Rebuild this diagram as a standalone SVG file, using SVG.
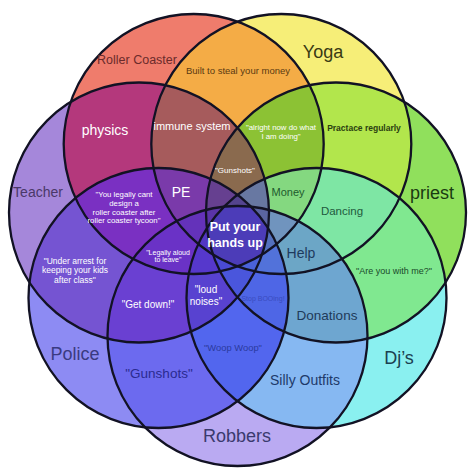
<svg xmlns="http://www.w3.org/2000/svg" width="472" height="472" viewBox="0 0 472 472">
<style>
.t{font-family:"Liberation Sans",Arial,sans-serif;text-anchor:middle}
.w{fill:#ffffff}
.b{font-weight:bold}
.o{fill:none;stroke:#121224;stroke-width:2.3}
</style>
<defs>
<clipPath id="p0_1"><circle cx="193.7" cy="144" r="130"/></clipPath>
<clipPath id="p0_2" clip-path="url(#p0_1)"><circle cx="281.3" cy="144" r="130"/></clipPath>
<clipPath id="p0_3" clip-path="url(#p0_2)"><circle cx="336" cy="212.5" r="130"/></clipPath>
<clipPath id="p0_4" clip-path="url(#p0_3)"><circle cx="316.5" cy="298" r="130"/></clipPath>
<clipPath id="p0_5" clip-path="url(#p0_4)"><circle cx="237.5" cy="336" r="130"/></clipPath>
<clipPath id="p0_6" clip-path="url(#p0_5)"><circle cx="158.5" cy="298" r="130"/></clipPath>
<clipPath id="p1_1"><circle cx="281.3" cy="144" r="130"/></clipPath>
<clipPath id="p1_2" clip-path="url(#p1_1)"><circle cx="336" cy="212.5" r="130"/></clipPath>
<clipPath id="p1_3" clip-path="url(#p1_2)"><circle cx="316.5" cy="298" r="130"/></clipPath>
<clipPath id="p1_4" clip-path="url(#p1_3)"><circle cx="237.5" cy="336" r="130"/></clipPath>
<clipPath id="p1_5" clip-path="url(#p1_4)"><circle cx="158.5" cy="298" r="130"/></clipPath>
<clipPath id="p2_1"><circle cx="336" cy="212.5" r="130"/></clipPath>
<clipPath id="p2_2" clip-path="url(#p2_1)"><circle cx="316.5" cy="298" r="130"/></clipPath>
<clipPath id="p2_3" clip-path="url(#p2_2)"><circle cx="237.5" cy="336" r="130"/></clipPath>
<clipPath id="p2_4" clip-path="url(#p2_3)"><circle cx="158.5" cy="298" r="130"/></clipPath>
<clipPath id="p2_5" clip-path="url(#p2_4)"><circle cx="139" cy="212.5" r="130"/></clipPath>
<clipPath id="p3_1"><circle cx="316.5" cy="298" r="130"/></clipPath>
<clipPath id="p3_2" clip-path="url(#p3_1)"><circle cx="237.5" cy="336" r="130"/></clipPath>
<clipPath id="p3_3" clip-path="url(#p3_2)"><circle cx="158.5" cy="298" r="130"/></clipPath>
<clipPath id="p3_4" clip-path="url(#p3_3)"><circle cx="139" cy="212.5" r="130"/></clipPath>
<clipPath id="p3_5" clip-path="url(#p3_4)"><circle cx="193.7" cy="144" r="130"/></clipPath>
<clipPath id="p4_1"><circle cx="237.5" cy="336" r="130"/></clipPath>
<clipPath id="p4_2" clip-path="url(#p4_1)"><circle cx="158.5" cy="298" r="130"/></clipPath>
<clipPath id="p4_3" clip-path="url(#p4_2)"><circle cx="139" cy="212.5" r="130"/></clipPath>
<clipPath id="p4_4" clip-path="url(#p4_3)"><circle cx="193.7" cy="144" r="130"/></clipPath>
<clipPath id="p4_5" clip-path="url(#p4_4)"><circle cx="281.3" cy="144" r="130"/></clipPath>
<clipPath id="p5_1"><circle cx="158.5" cy="298" r="130"/></clipPath>
<clipPath id="p5_2" clip-path="url(#p5_1)"><circle cx="139" cy="212.5" r="130"/></clipPath>
<clipPath id="p5_3" clip-path="url(#p5_2)"><circle cx="193.7" cy="144" r="130"/></clipPath>
<clipPath id="p5_4" clip-path="url(#p5_3)"><circle cx="281.3" cy="144" r="130"/></clipPath>
<clipPath id="p5_5" clip-path="url(#p5_4)"><circle cx="336" cy="212.5" r="130"/></clipPath>
<clipPath id="p6_1"><circle cx="139" cy="212.5" r="130"/></clipPath>
<clipPath id="p6_2" clip-path="url(#p6_1)"><circle cx="193.7" cy="144" r="130"/></clipPath>
<clipPath id="p6_3" clip-path="url(#p6_2)"><circle cx="281.3" cy="144" r="130"/></clipPath>
<clipPath id="p6_4" clip-path="url(#p6_3)"><circle cx="336" cy="212.5" r="130"/></clipPath>
<clipPath id="p6_5" clip-path="url(#p6_4)"><circle cx="316.5" cy="298" r="130"/></clipPath>
</defs>
<rect width="472" height="472" fill="#ffffff"/>
<g id="region-fills">
<circle cx="193.7" cy="144" r="130" fill="#EF7C6C"/>
<circle cx="281.3" cy="144" r="130" fill="#F6EE78"/>
<circle cx="336" cy="212.5" r="130" fill="#90E05C"/>
<circle cx="316.5" cy="298" r="130" fill="#8AF0F0"/>
<circle cx="237.5" cy="336" r="130" fill="#BAAAF2"/>
<circle cx="158.5" cy="298" r="130" fill="#8D8BF3"/>
<circle cx="139" cy="212.5" r="130" fill="#A587DA"/>
<circle cx="281.3" cy="144" r="130" fill="#F4AC46" clip-path="url(#p0_1)"/>
<circle cx="336" cy="212.5" r="130" fill="#B2E64C" clip-path="url(#p1_1)"/>
<circle cx="316.5" cy="298" r="130" fill="#80E890" clip-path="url(#p2_1)"/>
<circle cx="237.5" cy="336" r="130" fill="#86B8F2" clip-path="url(#p3_1)"/>
<circle cx="158.5" cy="298" r="130" fill="#6C6AEF" clip-path="url(#p4_1)"/>
<circle cx="139" cy="212.5" r="130" fill="#7554D2" clip-path="url(#p5_1)"/>
<circle cx="193.7" cy="144" r="130" fill="#B4387C" clip-path="url(#p6_1)"/>
<circle cx="336" cy="212.5" r="130" fill="#8CC234" clip-path="url(#p0_2)"/>
<circle cx="316.5" cy="298" r="130" fill="#7EE6A4" clip-path="url(#p1_2)"/>
<circle cx="237.5" cy="336" r="130" fill="#6EA6D0" clip-path="url(#p2_2)"/>
<circle cx="158.5" cy="298" r="130" fill="#5266EE" clip-path="url(#p3_2)"/>
<circle cx="139" cy="212.5" r="130" fill="#6A40D2" clip-path="url(#p4_2)"/>
<circle cx="193.7" cy="144" r="130" fill="#7A30C2" clip-path="url(#p5_2)"/>
<circle cx="281.3" cy="144" r="130" fill="#A65B5C" clip-path="url(#p6_2)"/>
<circle cx="316.5" cy="298" r="130" fill="#84D880" clip-path="url(#p0_3)"/>
<circle cx="237.5" cy="336" r="130" fill="#6CA6C6" clip-path="url(#p1_3)"/>
<circle cx="158.5" cy="298" r="130" fill="#4E66E6" clip-path="url(#p2_3)"/>
<circle cx="139" cy="212.5" r="130" fill="#5842D0" clip-path="url(#p3_3)"/>
<circle cx="193.7" cy="144" r="130" fill="#6A32C6" clip-path="url(#p4_3)"/>
<circle cx="281.3" cy="144" r="130" fill="#7A3AAA" clip-path="url(#p5_3)"/>
<circle cx="336" cy="212.5" r="130" fill="#8A6A4E" clip-path="url(#p6_3)"/>
<circle cx="237.5" cy="336" r="130" fill="#7094BE" clip-path="url(#p0_4)"/>
<circle cx="158.5" cy="298" r="130" fill="#5272DA" clip-path="url(#p1_4)"/>
<circle cx="139" cy="212.5" r="130" fill="#4A56DC" clip-path="url(#p2_4)"/>
<circle cx="193.7" cy="144" r="130" fill="#5638CC" clip-path="url(#p3_4)"/>
<circle cx="281.3" cy="144" r="130" fill="#6432BA" clip-path="url(#p4_4)"/>
<circle cx="336" cy="212.5" r="130" fill="#664090" clip-path="url(#p5_4)"/>
<circle cx="316.5" cy="298" r="130" fill="#6878A2" clip-path="url(#p6_4)"/>
<circle cx="158.5" cy="298" r="130" fill="#5470BE" clip-path="url(#p0_5)"/>
<circle cx="139" cy="212.5" r="130" fill="#4A62DA" clip-path="url(#p1_5)"/>
<circle cx="193.7" cy="144" r="130" fill="#4A4AD4" clip-path="url(#p2_5)"/>
<circle cx="281.3" cy="144" r="130" fill="#5236C4" clip-path="url(#p3_5)"/>
<circle cx="336" cy="212.5" r="130" fill="#5A34A8" clip-path="url(#p4_5)"/>
<circle cx="316.5" cy="298" r="130" fill="#54448E" clip-path="url(#p5_5)"/>
<circle cx="237.5" cy="336" r="130" fill="#5A64A0" clip-path="url(#p6_5)"/>
<circle cx="139" cy="212.5" r="130" fill="#4C3CB8" clip-path="url(#p0_6)"/>
</g>
<g id="roller-coaster"><circle class="o" cx="193.7" cy="144" r="130"/><text class="t" x="137" y="64" font-size="12.5" fill="#6B2B2B">Roller Coaster</text></g>
<g id="yoga"><circle class="o" cx="281.3" cy="144" r="130"/><text class="t" x="323" y="58" font-size="18" fill="#3A3A14">Yoga</text></g>
<g id="priest"><circle class="o" cx="336" cy="212.5" r="130"/><text class="t" x="432" y="199" font-size="18" fill="#1A3A12">priest</text></g>
<g id="djs"><circle class="o" cx="316.5" cy="298" r="130"/><text class="t" x="399" y="364" font-size="18" fill="#1A4050">Dj’s</text></g>
<g id="robbers"><circle class="o" cx="237.5" cy="336" r="130"/><text class="t" x="237" y="442" font-size="18" fill="#3A3A6E">Robbers</text></g>
<g id="police"><circle class="o" cx="158.5" cy="298" r="130"/><text class="t" x="75" y="360" font-size="18" fill="#3A3A80">Police</text></g>
<g id="teacher"><circle class="o" cx="139" cy="212.5" r="130"/><text class="t" x="38" y="197" font-size="14" fill="#4A3868">Teacher</text></g>
<g id="overlap-labels">
<text class="t" x="238" y="74" font-size="9.5" fill="#5A3A12">Built to steal your money</text>
<text class="t w" x="105" y="135" font-size="14">physics</text>
<text class="t w" x="192" y="130" font-size="11">immune system</text>
<text class="t w" x="281" y="130" font-size="7.8">"alright now do what</text>
<text class="t w" x="281" y="139" font-size="7.8">I am doing"</text>
<text class="t b" x="364" y="131" font-size="8.5" fill="#2A4010">Practace regularly</text>
<text class="t w" x="181" y="197" font-size="14">PE</text>
<text class="t w" x="124" y="197" font-size="7.8">"You legally cant</text>
<text class="t w" x="124" y="205.5" font-size="7.8">design a</text>
<text class="t w" x="124" y="214.5" font-size="7.8">roller coaster after</text>
<text class="t w" x="124" y="223" font-size="7.8">roller coaster tycoon"</text>
<text class="t w" x="235" y="173" font-size="8">"Gunshots"</text>
<text class="t" x="288" y="196" font-size="11" fill="#1E5A2E">Money</text>
<text class="t" x="342" y="215" font-size="11.5" fill="#1E5A3E">Dancing</text>
<text class="t w b" x="235" y="231" font-size="12.5">Put your</text>
<text class="t w b" x="235" y="247" font-size="12.5">hands up</text>
<text class="t" x="301" y="258" font-size="14" fill="#1E3A5E">Help</text>
<text class="t w" x="168" y="254.5" font-size="7">"Legally aloud</text>
<text class="t w" x="168" y="261.5" font-size="7">to leave"</text>
<text class="t w" x="75" y="264" font-size="8.5">"Under arrest for</text>
<text class="t w" x="75" y="273" font-size="8.5">keeping your kids</text>
<text class="t w" x="75" y="283" font-size="8.5">after class"</text>
<text class="t" x="394" y="274" font-size="9" fill="#1A4A2A">"Are you with me?"</text>
<text class="t w" x="206" y="293" font-size="10">"loud</text>
<text class="t w" x="206" y="305" font-size="10">noises"</text>
<text class="t" x="263" y="301" font-size="7" fill="#3A4CC0">Stop BOOing!</text>
<text class="t w" x="148" y="308" font-size="10">"Get down!"</text>
<text class="t" x="327" y="320" font-size="13.5" fill="#1E3A5A">Donations</text>
<text class="t" x="233" y="351" font-size="9.4" fill="#2A3A9E">"Woop Woop"</text>
<text class="t" x="159" y="378" font-size="13.5" fill="#2A2A90">"Gunshots"</text>
<text class="t" x="305" y="385" font-size="14" fill="#1E3A6A">Silly Outfits</text>
</g>
</svg>
